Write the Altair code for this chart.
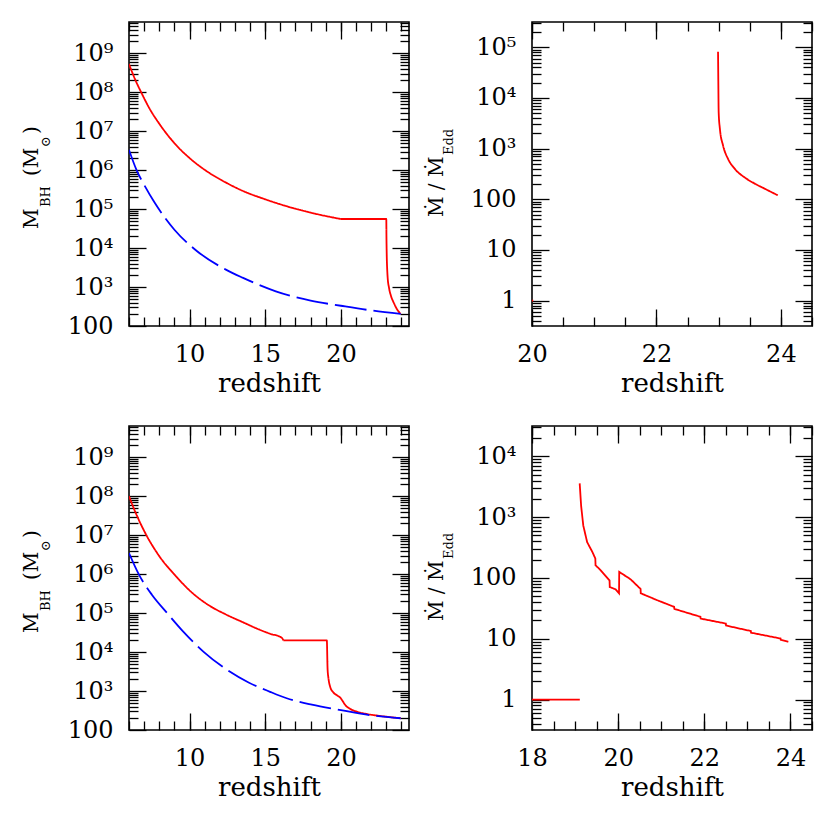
import altair as alt
import pandas as pd

FONT = "DejaVu Serif"

# ---------------- data ----------------
# Panel 1 (top left): black-hole mass vs redshift
p1_grow_z = [6.0, 6.4, 6.8, 7.4, 8.0, 9.0, 10.0, 11.3, 12.4, 13.5, 15.0, 16.8, 18.3, 20.0]
p1_grow_m = [5.25e8, 2.14e8, 1.0e8, 3.55e7, 1.55e7, 4.9e6, 2.04e6, 8.5e5, 4.8e5, 2.95e5, 1.78e5, 1.07e5, 7.6e4, 5.56e4]
p1_seed_z = [20.0, 23.0, 23.01, 23.03, 23.06, 23.09, 23.18, 23.31, 23.49, 23.71, 23.95]
p1_seed_m = [5.56e4, 5.56e4, 2.0e4, 6.3e3, 2.8e3, 1.74e3, 955, 589, 398, 269, 204]
p1_blue_z = [6.0, 6.5, 7.0, 7.7, 9.0, 10.5, 12.4, 13.5, 15.7, 18.0, 20.0, 22.0, 23.95]
p1_blue_m = [3.3e6, 1.0e6, 4.2e5, 1.45e5, 2.95e4, 8.3e3, 2.8e3, 1.74e3, 776, 447, 331, 251, 204]

# Panel 2 (top right): accretion rate in Eddington units
p2_low_z = [19.5, 20.02]
p2_low_r = [1.0, 1.0]
p2_red_z = [22.99, 22.995, 23.0, 23.02, 23.07, 23.15, 23.26, 23.42, 23.58, 23.74, 23.95]
p2_red_r = [82000, 17800, 5250, 2450, 1160, 631, 398, 269, 204, 162, 120]

# Panel 3 (bottom left): black-hole mass vs redshift
p3_grow_z = [6.0, 6.42, 7.09, 7.97, 9.07, 10.18, 11.28, 12.38, 13.49, 14.59, 15.32, 16.09, 16.2]
p3_grow_m = [1.0e8, 3.9e7, 1.1e7, 3.0e6, 9.1e5, 3.3e5, 1.58e5, 9.3e4, 5.9e4, 3.8e4, 2.95e4, 2.34e4, 2.0e4]
p3_seed_z = [16.2, 19.07, 19.12, 19.18, 19.29, 19.51, 19.74, 19.96, 20.07, 20.29, 20.62, 21.06, 21.72,
             22.6, 23.49, 23.95]
p3_seed_m = [2.0e4, 2.0e4, 3.7e3, 2.1e3, 1.29e3, 912, 776, 676, 589, 437, 347, 295, 257,
             229, 209, 200]
p3_blue_z = [6.0, 6.64, 7.5, 8.52, 9.6, 10.95, 12.4, 13.9, 15.32, 16.42, 18.08, 20.0, 21.94, 23.95]
p3_blue_m = [3.47e6, 1.0e6, 3.0e5, 1.0e5, 3.3e4, 1.0e4, 3.67e3, 1.66e3, 955, 653, 447, 324, 240, 200]

# Panel 4 (bottom right): accretion rate in Eddington units
p4_low_z = [18.0, 19.11]
p4_low_r = [1.0, 1.0]
p4_red_z = [19.107, 19.14, 19.19, 19.28, 19.4, 19.47, 19.475, 19.59, 19.8, 19.805, 19.94, 20.02,
            20.025, 20.29, 20.52, 20.525, 20.91, 21.3, 21.305, 21.91, 21.915, 22.5, 22.505,
            23.08, 23.085, 23.77, 23.775, 23.95]
p4_red_r = [3600, 1550, 731, 389, 269, 209, 162, 135, 91, 71, 65, 56,
            126, 95, 66, 56, 43, 33.5, 31, 23, 21.5, 17.8, 16.5,
            13.4, 12.6, 10.1, 9.6, 8.9]

# axis ticks / labels
mass_major = [1e2, 1e3, 1e4, 1e5, 1e6, 1e7, 1e8, 1e9]
rate_major_top = [1, 10, 100, 1e3, 1e4, 1e5]
rate_major_bot = [1, 10, 100, 1e3, 1e4]
z_major_left = [10, 15, 20]
z_major_tr = [20, 22, 24]
z_major_br = [18, 20, 22, 24]


def log_minor(lo, hi):
    out = []
    for e in range(-2, 11):
        for k in range(2, 10):
            v = k * 10.0 ** e
            if lo <= v <= hi:
                out.append(v)
    return out


def steps(lo, hi, step):
    out, v = [], lo
    while v <= hi + 1e-9:
        out.append(round(v, 3))
        v += step
    return out


def table(*segs):
    rows = []
    for series, seg, zs, vs in segs:
        for z, v in zip(zs, vs):
            rows.append({"series": series, "seg": seg, "z": z, "v": v})
    return pd.DataFrame(rows)


MAJ, MIN = 17, 9
SUP = "['⁰','¹','²','³','⁴','⁵','⁶','⁷','⁸','⁹']"
LABEL_EXPR = ("datum.value <= 100 ? format(datum.value, 'd') : '10' + "
              + SUP + "[round(log(datum.value) / LN10)]")


def ax(orient, values, size, labels=False, title=None):
    kw = dict(orient=orient, values=values, offset=-size, tickSize=size, labels=labels)
    if labels and orient == "left":
        kw["labelExpr"] = LABEL_EXPR
    if labels and orient == "bottom":
        kw["format"] = "d"
    kw["title"] = title
    return alt.Axis(**kw)


def txt(s, x, y, size):
    return alt.Chart(alt.Data(values=[{}])).mark_text(
        text=s, angle=270, align="left", baseline="alphabetic",
        font=FONT, fontSize=size, color="black"
    ).encode(x=alt.value(x), y=alt.value(y))


def mass_title():
    return [txt("M", -91, 207, 20), txt("BH", -79, 185, 13), txt("(M", -91, 154, 20),
            txt("⊙", -79, 125, 13), txt(")", -91, 112, 20)]


def rate_title():
    return [txt("Ṁ / Ṁ", -89, 195, 20), txt("Edd", -79, 133, 13)]


def panel(df, xdom, ydom, xmaj, xmin, ymaj, ymin, titles, interp):
    base = alt.Chart(df)

    def X(a):
        return alt.X("z:Q", scale=alt.Scale(domain=xdom, nice=False, zero=False), axis=a)

    def Y(a):
        return alt.Y("v:Q", scale=alt.Scale(type="log", domain=ydom, nice=False), axis=a)

    main = base.mark_line(clip=True, strokeWidth=1.8, interpolate=interp).encode(
        x=X(ax("bottom", xmaj, MAJ, labels=True, title="redshift")),
        y=Y(ax("left", ymaj, MAJ, labels=True)),
        color=alt.Color("series:N", scale=alt.Scale(domain=["fast", "edd"], range=["#ff0000", "#0000ff"]),
                        legend=None),
        strokeDash=alt.StrokeDash("series:N", scale=alt.Scale(domain=["fast", "edd"], range=[[1, 0], [32, 7]]),
                                  legend=None),
        detail="seg:N",
    )
    ghost = base.mark_line(opacity=0, clip=True)
    l2 = ghost.encode(x=X(ax("bottom", xmin, MIN)), y=Y(ax("left", ymin, MIN)), detail="seg:N")
    l3 = ghost.encode(x=X(ax("top", xmaj, MAJ)), y=Y(ax("right", ymaj, MAJ)), detail="seg:N")
    l4 = ghost.encode(x=X(ax("top", xmin, MIN)), y=Y(ax("right", ymin, MIN)), detail="seg:N")
    return alt.layer(main, l2, l3, l4, *titles).resolve_axis(
        x="independent", y="independent").properties(width=280, height=304)


mass_dom = [100, 6.31e9]
p1 = panel(table(("fast", "a", p1_grow_z, p1_grow_m), ("fast", "c", p1_seed_z, p1_seed_m),
                 ("edd", "b", p1_blue_z, p1_blue_m)),
           [6, 24.5], mass_dom, z_major_left, steps(6, 24, 1), mass_major,
           log_minor(*mass_dom), mass_title(), "monotone")
p3 = panel(table(("fast", "a", p3_grow_z, p3_grow_m), ("fast", "c", p3_seed_z, p3_seed_m),
                 ("edd", "b", p3_blue_z, p3_blue_m)),
           [6, 24.5], mass_dom, z_major_left, steps(6, 24, 1), mass_major,
           log_minor(*mass_dom), mass_title(), "monotone")
r2_dom = [0.316, 3.16e5]
p2 = panel(table(("fast", "a", p2_low_z, p2_low_r), ("fast", "b", p2_red_z, p2_red_r)),
           [20, 24.5], r2_dom, z_major_tr, steps(20, 24.5, 0.5), rate_major_top,
           log_minor(*r2_dom), rate_title(), "monotone")
r4_dom = [0.316, 3.16e4]
p4 = panel(table(("fast", "a", p4_low_z, p4_low_r), ("fast", "b", p4_red_z, p4_red_r)),
           [18, 24.5], r4_dom, z_major_br, steps(18, 24.5, 0.5), rate_major_bot,
           log_minor(*r4_dom), rate_title(), "linear")

chart = alt.concat(
    p1, p2, p3, p4, columns=2, spacing={"row": 100, "column": 123}, bounds="flush"
).properties(
    padding={"left": 13, "top": 12, "right": 5, "bottom": 5}
).configure_view(
    stroke="black", strokeWidth=1.6
).configure_axis(
    labelFont=FONT, labelFontSize=24, labelColor="black", labelPadding=16, labelFlush=False,
    titleFont=FONT, titleFontSize=26, titleFontWeight="normal", titleColor="black", titlePadding=4,
    tickColor="black", tickWidth=1.3, domain=False, grid=False,
)

chart.save("out.html", embed_options={"renderer": "svg", "actions": False})
